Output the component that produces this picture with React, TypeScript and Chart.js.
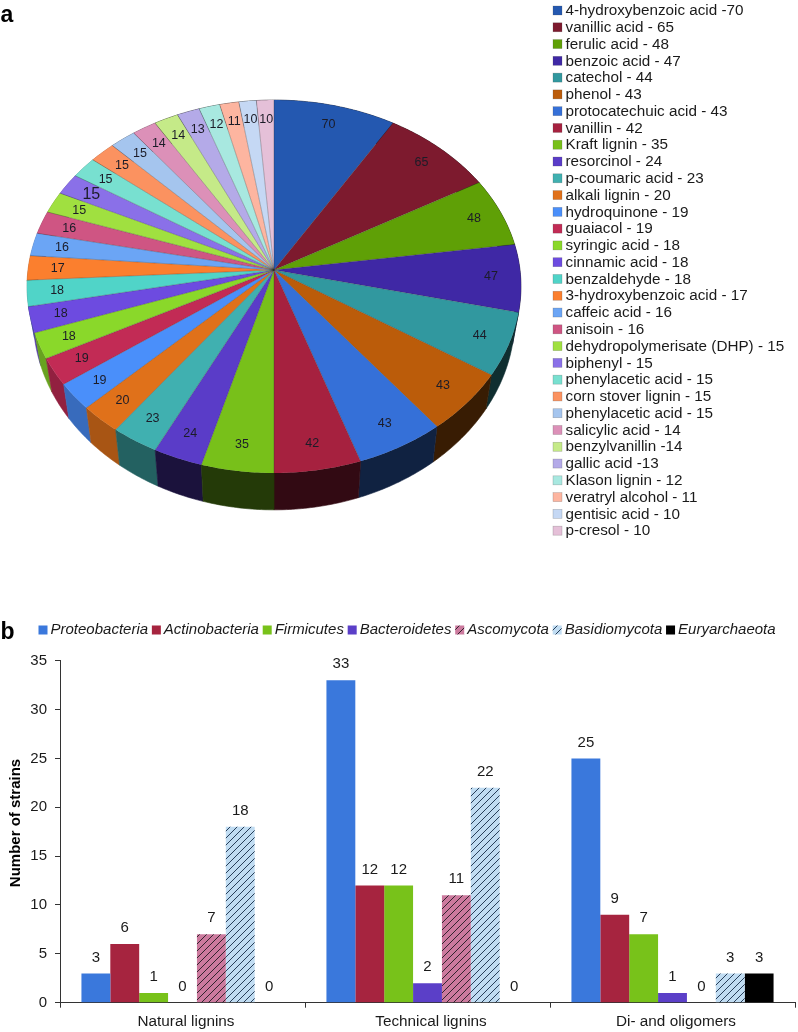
import React, { useEffect, useRef } from "react";
import { Chart, registerables } from "chart.js";

Chart.register(...registerables);

const FONT = '"Liberation Sans", Arial, sans-serif';

const pieValues = [70, 65, 48, 47, 44, 43, 43, 42, 35, 24, 23, 20, 19, 19, 18, 18, 18, 17, 16, 16, 15, 15, 15, 15, 15, 14, 14, 13, 12, 11, 10, 10];
const pieLabels = [
  "4-hydroxybenzoic acid -70", "vanillic acid - 65", "ferulic acid - 48", "benzoic acid - 47", "catechol - 44", "phenol - 43",
  "protocatechuic acid - 43", "vanillin - 42", "Kraft lignin - 35", "resorcinol - 24", "p-coumaric acid - 23", "alkali lignin - 20",
  "hydroquinone - 19", "guaiacol - 19", "syringic acid - 18", "cinnamic acid - 18", "benzaldehyde - 18", "3-hydroxybenzoic acid - 17",
  "caffeic acid - 16", "anisoin - 16", "dehydropolymerisate (DHP) - 15", "biphenyl - 15", "phenylacetic acid - 15", "corn stover lignin - 15",
  "phenylacetic acid - 15", "salicylic acid - 14", "benzylvanillin -14", "gallic acid -13", "Klason lignin - 12", "veratryl alcohol - 11",
  "gentisic acid - 10", "p-cresol - 10",
];
const pieColors = [
  "#2458b0", "#7d1a2e", "#5fa006", "#3f28a5", "#31989f", "#bb5c0a", "#3570d8", "#a6213f",
  "#78c01a", "#5a3cc8", "#40b0b0", "#e0711a", "#4a8ffa", "#c22b55", "#8ad82a", "#6d4be0",
  "#50d4c8", "#fb7f2e", "#6ba5f5", "#cf5583", "#a0e040", "#8a70e8", "#78e0d0", "#fb9260",
  "#a5c5ee", "#dc90b8", "#c5ea88", "#b4aae8", "#a8e8e0", "#fdb5a0", "#c5d8f4", "#e5c0d8",
];

const barCategories = ["Natural lignins", "Technical lignins", "Di- and oligomers"];
const proteobacteria = [3, 33, 25];
const actinobacteria = [6, 12, 9];
const firmicutes = [1, 12, 7];
const bacteroidetes = [0, 2, 1];
const ascomycota = [7, 11, 0];
const basidiomycota = [18, 22, 3];
const euryarchaeota = [0, 0, 3];

// perspective of the pie's top face
const CX = 274, CY = 270, RX = 246, RY = 185, PERSP = 0.0885;
const project = (r: number, a: number): [number, number] => {
  const u = r * Math.cos(a), v = r * Math.sin(a);
  const d = 1 - PERSP * v;
  return [CX + (RX * u) / d, CY + (RY * v) / d];
};
const lower = (p: [number, number]): [number, number] => [CX + (p[0] - CX) * 0.975, 1.03 * p[1] + 22.7];

function shade(hex: string, f: number) {
  const n = parseInt(hex.slice(1), 16);
  const c = (s: number) => Math.round(((n >> s) & 255) * f);
  return `rgb(${c(16)},${c(8)},${c(0)})`;
}

function arcPoints(a0: number, a1: number) {
  const pts: [number, number][] = [];
  const steps = Math.max(2, Math.ceil((a1 - a0) / 0.012));
  for (let i = 0; i <= steps; i++) pts.push(project(1, a0 + ((a1 - a0) * i) / steps));
  return pts;
}

const pie3d = {
  id: "pie3d",
  beforeDatasetDraw(chart: any) {
    const ctx = chart.ctx as CanvasRenderingContext2D;
    const arcs = chart.getDatasetMeta(0).data as any[];
    const order = arcs.map((a, i) => ({ a, i, mid: Math.sin((a.startAngle + a.endAngle) / 2) })).sort((p, q) => p.mid - q.mid);
    // side wall
    order.forEach(({ a, i }) => {
      const pts = arcPoints(a.startAngle, a.endAngle);
      const midX = project(1, (a.startAngle + a.endAngle) / 2)[0];
      const f = midX > 160 ? 0.3 : midX > 122 ? 0.55 : 0.75;
      const col = shade(pieColors[i], f);
      ctx.beginPath();
      pts.forEach((p, k) => (k ? ctx.lineTo(p[0], p[1]) : ctx.moveTo(p[0], p[1])));
      pts.slice().reverse().forEach((p) => { const q = lower(p); ctx.lineTo(q[0], q[1]); });
      ctx.closePath();
      ctx.fillStyle = col;
      ctx.strokeStyle = col;
      ctx.lineWidth = 0.6;
      ctx.fill();
      ctx.stroke();
    });
    // top face
    arcs.forEach((a, i) => {
      const pts = arcPoints(a.startAngle, a.endAngle);
      ctx.beginPath();
      ctx.moveTo(CX, CY);
      pts.forEach((p) => ctx.lineTo(p[0], p[1]));
      ctx.closePath();
      ctx.fillStyle = pieColors[i];
      ctx.fill();
    });
    arcs.forEach((a) => {
      const p = project(1, a.startAngle);
      ctx.beginPath();
      ctx.moveTo(CX, CY);
      ctx.lineTo(p[0], p[1]);
      ctx.strokeStyle = "rgba(40,40,40,0.5)";
      ctx.lineWidth = 0.6;
      ctx.stroke();
    });
    // value labels
    ctx.textAlign = "center";
    ctx.textBaseline = "middle";
    ctx.fillStyle = "#1c1c28";
    arcs.forEach((a, i) => {
      const p = project(0.88, (a.startAngle + a.endAngle) / 2);
      ctx.font = `${i === 21 ? 16 : 12.5}px ${FONT}`;
      ctx.fillText(String(pieValues[i]), p[0], p[1]);
    });
    return false;
  },
  afterDraw(chart: any) {
    const ctx = chart.ctx as CanvasRenderingContext2D;
    ctx.save();
    ctx.textAlign = "left";
    ctx.textBaseline = "middle";
    pieLabels.forEach((t, i) => {
      const y = 10.5 + 16.78 * i;
      ctx.fillStyle = pieColors[i];
      ctx.fillRect(553, y - 4.5, 9, 9);
      ctx.strokeStyle = "rgba(70,70,70,0.35)";
      ctx.lineWidth = 0.6;
      ctx.strokeRect(553, y - 4.5, 9, 9);
      ctx.fillStyle = "#1a1a1a";
      ctx.font = `15.25px ${FONT}`;
      ctx.fillText(t, 565.5, y + 0.5);
    });
    ctx.fillStyle = "#000";
    ctx.font = `bold 23px ${FONT}`;
    ctx.textBaseline = "alphabetic";
    ctx.fillText("a", 0.5, 22);
    ctx.restore();
  },
};

function hatch(base: string, line: string) {
  const size = 7;
  const c = document.createElement("canvas");
  c.width = size;
  c.height = size;
  const g = c.getContext("2d")!;
  g.fillStyle = base;
  g.fillRect(0, 0, size, size);
  g.strokeStyle = line;
  g.lineWidth = 0.95;
  [[-size, size, size, -size], [0, size, size, 0], [0, 2 * size, 2 * size, 0]].forEach(([a, b, d, e]) => {
    g.beginPath();
    g.moveTo(a, b);
    g.lineTo(d, e);
    g.stroke();
  });
  return g.createPattern(c, "repeat")!;
}

const barPlugin = {
  id: "barExtras",
  afterDatasetsDraw(chart: any) {
    const ctx = chart.ctx as CanvasRenderingContext2D;
    ctx.save();
    ctx.textAlign = "center";
    ctx.textBaseline = "middle";
    ctx.fillStyle = "#1a1a1a";
    ctx.font = `15px ${FONT}`;
    chart.data.datasets.forEach((ds: any, d: number) => {
      chart.getDatasetMeta(d).data.forEach((el: any, i: number) => {
        ctx.fillText(String(ds.data[i]), el.x, el.y - 16);
      });
    });
    ctx.restore();
  },
  afterDraw(chart: any) {
    const ctx = chart.ctx as CanvasRenderingContext2D;
    ctx.save();
    ctx.textAlign = "left";
    ctx.textBaseline = "middle";
    let x = 38.5;
    const y = 70;
    chart.data.datasets.forEach((ds: any) => {
      ctx.fillStyle = ds.backgroundColor;
      ctx.fillRect(x, y - 4.5, 9, 9);
      ctx.fillStyle = "#1a1a1a";
      ctx.font = `italic 15px ${FONT}`;
      ctx.fillText(ds.label, x + 12, y);
      x += 12 + ctx.measureText(ds.label).width + 3.8;
    });
    ctx.fillStyle = "#000";
    ctx.font = `bold 23px ${FONT}`;
    ctx.textBaseline = "alphabetic";
    ctx.fillText("b", 0.5, 79.3);
    ctx.textAlign = "center";
    ctx.textBaseline = "middle";
    ctx.font = `bold 15px ${FONT}`;
    ctx.translate(16, 263);
    ctx.rotate(-Math.PI / 2);
    ctx.fillText("Number of strains", 0, 0);
    ctx.restore();
  },
};

export default function App() {
  const pieRef = useRef<HTMLCanvasElement>(null);
  const barRef = useRef<HTMLCanvasElement>(null);

  useEffect(() => {
    const pie = new Chart(pieRef.current!, {
      type: "pie",
      data: { labels: pieLabels, datasets: [{ data: pieValues, backgroundColor: pieColors, borderWidth: 0 }] },
      options: {
        animation: false,
        responsive: false,
        plugins: { legend: { display: false }, tooltip: { enabled: false } },
      },
      plugins: [pie3d],
    } as any);

    const bar = new Chart(barRef.current!, {
      type: "bar",
      data: {
        labels: barCategories,
        datasets: [
          { label: "Proteobacteria", data: proteobacteria, backgroundColor: "#3a78dc" },
          { label: "Actinobacteria", data: actinobacteria, backgroundColor: "#a6243f" },
          { label: "Firmicutes", data: firmicutes, backgroundColor: "#78c21a" },
          { label: "Bacteroidetes", data: bacteroidetes, backgroundColor: "#5b3fc8" },
          { label: "Ascomycota", data: ascomycota, backgroundColor: hatch("#cc7a9e", "#2a1f28") },
          { label: "Basidiomycota", data: basidiomycota, backgroundColor: hatch("#c0dcf2", "#1f3550") },
          { label: "Euryarchaeota", data: euryarchaeota, backgroundColor: "#000000" },
        ],
      },
      options: {
        animation: false,
        responsive: false,
        layout: { padding: { top: 100.7, left: 0, right: 3, bottom: 0 } },
        datasets: { bar: { barPercentage: 1, categoryPercentage: 0.825 } },
        plugins: { legend: { display: false }, tooltip: { enabled: false } },
        scales: {
          x: {
            grid: { drawOnChartArea: false, drawTicks: true, tickLength: 5, color: "#333", offset: true },
            border: { color: "#333", width: 1 },
            ticks: { color: "#1a1a1a", font: { family: FONT, size: 15.3 }, padding: 5, maxRotation: 0, labelOffset: 3.5 },
            afterFit: (s: any) => { s.height = 29.3; },
          },
          y: {
            min: 0,
            max: 35,
            grid: { drawOnChartArea: false, drawTicks: true, tickLength: 5, color: "#333" },
            border: { color: "#333", width: 1 },
            ticks: { stepSize: 5, color: "#1a1a1a", font: { family: FONT, size: 15 }, padding: 8 },
            afterFit: (s: any) => { s.width = 60; },
          },
        },
      },
      plugins: [barPlugin],
    } as any);

    return () => {
      pie.destroy();
      bar.destroy();
    };
  }, []);

  return (
    <div style={{ position: "absolute", left: 0, top: 0, width: 798, height: 1032, background: "#fff", overflow: "hidden" }}>
      <canvas ref={pieRef} width={798} height={560} style={{ position: "absolute", left: 0, top: 0, display: "block", width: 798, height: 560 }} />
      <canvas ref={barRef} width={798} height={472} style={{ position: "absolute", left: 0, top: 560, display: "block", width: 798, height: 472 }} />
    </div>
  );
}
